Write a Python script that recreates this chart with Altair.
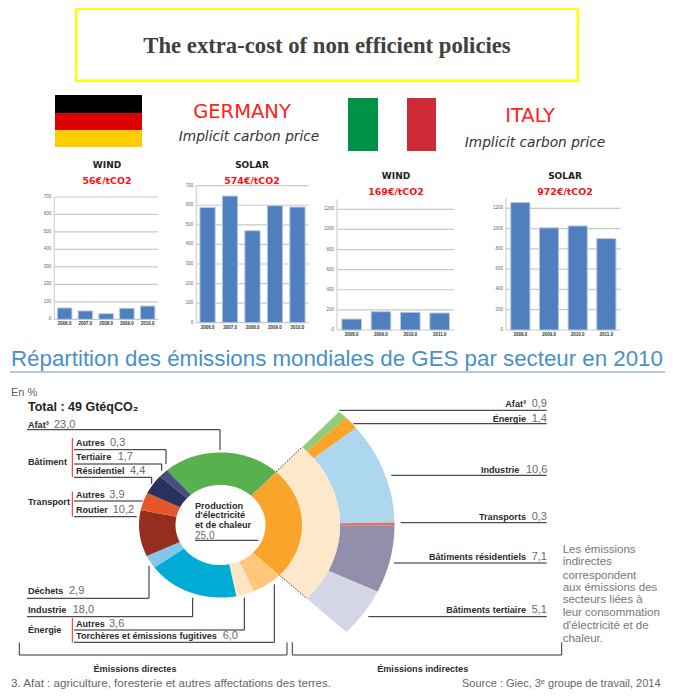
import math
import altair as alt
import pandas as pd

# ---------- values ----------
YEARS_DE = ["2006.0", "2007.0", "2008.0", "2009.0", "2010.0"]
YEARS_IT = ["2008.0", "2009.0", "2010.0", "2011.0"]
DE_WIND = [65, 48, 32, 63, 76]
DE_SOLAR = [589, 647, 470, 598, 591]
IT_WIND = [109, 182, 176, 169]
IT_SOLAR = [1257, 1007, 1026, 901]
TICKS_DE = [0, 100, 200, 300, 400, 500, 600, 700]
TICKS_IT = [0, 200, 400, 600, 800, 1000, 1200]

DIRECT_NAMES = ["Production", "Torchères", "Autres énergie", "Industrie", "Déchets", "Routier",
                "Autres transport", "Résidentiel", "Tertiaire", "Autres bâtiment", "Afat"]
DIRECT_VALUES = [25.0, 6.0, 3.6, 18.0, 2.9, 10.2, 3.9, 4.4, 1.7, 0.3, 23.0]
DIRECT_COLORS = ["#F9A52B", "#FEC77C", "#FDE5C4", "#00ABD6", "#82C6E8", "#962E20",
                 "#E5562A", "#2A3060", "#464F78", "#464F78", "#58B14E"]
INDIRECT_NAMES = ["i Afat", "i Énergie", "i Industrie", "i Transports", "i Résidentiels", "i Tertiaire"]
INDIRECT_VALUES = [0.9, 1.4, 10.6, 0.3, 7.1, 5.1]
INDIRECT_COLORS = ["#93CC78", "#F9A52B", "#ADD6EF", "#EC6F55", "#928EAB", "#D4D6E6"]

OFF = 8
DUMMY = alt.Data(values=[{"a": 1}])
layers = []
SANS = "Liberation Sans"
DJ = "DejaVu Sans"


def text(x, y, s, size=9, font=SANS, color="#333333", weight="normal", align="left", style="normal"):
    layers.append(alt.Chart(DUMMY).mark_text(
        font=font, fontSize=size, color=color, fontWeight=weight, align=align,
        baseline="alphabetic", fontStyle=style, text=s
    ).encode(x=alt.value(x - OFF), y=alt.value(y - OFF)))


def line(x1, y1, x2, y2, color="#222222", w=1.0, dash=None):
    kw = {"strokeDash": dash} if dash else {}
    layers.append(alt.Chart(DUMMY).mark_rule(color=color, strokeWidth=w, **kw).encode(
        x=alt.value(x1 - OFF), x2=alt.value(x2 - OFF), y=alt.value(y1 - OFF), y2=alt.value(y2 - OFF)))


def rect(x1, y1, x2, y2, color):
    layers.append(alt.Chart(DUMMY).mark_rect(color=color).encode(
        x=alt.value(x1 - OFF), x2=alt.value(x2 - OFF), y=alt.value(y1 - OFF), y2=alt.value(y2 - OFF)))


def panel(years, vals, ticks, x0, x1, y0, ytop, axis_top, gap, fs):
    df = pd.DataFrame({"year": years, "v": vals})
    tk = pd.DataFrame({"t": ticks, "s": [str(t) for t in ticks]})
    ys = alt.Scale(domain=[0, ticks[-1]], range=[y0 - OFF, ytop - OFF])
    xs = alt.Scale(type="band", domain=years, range=[x0 - OFF, x1 - OFF], paddingInner=gap, paddingOuter=gap / 2)
    y_t = alt.Y("t:Q", scale=ys, axis=None)
    layers.append(alt.Chart(tk).mark_rule(color="#c9c9c9", strokeWidth=1.2).encode(
        y=y_t, x=alt.value(x0 - OFF), x2=alt.value(x1 - OFF)))
    line(x0, axis_top, x0, y0, color="#d0d0d0", w=1.2)
    layers.append(alt.Chart(df).mark_bar(color="#4F7FBC", stroke="#B6CBE6", strokeWidth=1).encode(
        x=alt.X("year:N", scale=xs, axis=None),
        y=alt.Y("v:Q", scale=ys, axis=None)))
    layers.append(alt.Chart(tk).mark_text(fontSize=fs, font=SANS, color="#666666", align="right", baseline="middle").encode(
        y=y_t, x=alt.value(x0 - 3 - OFF), text="s:N"))
    layers.append(alt.Chart(df).mark_text(fontSize=fs, font=SANS, fontWeight="bold", color="#333333", baseline="middle").encode(
        x=alt.X("year:N", scale=xs, axis=None), y=alt.value(y0 + 5 - OFF), text="year:N"))


# ---------- top block ----------
rect(75, 8, 579, 82, "#FFFF00")
rect(77.5, 10, 576.5, 79.5, "#FFFFFF")
text(327, 53, "The extra-cost of non efficient policies", size=22.7, font="Liberation Serif", weight="bold", color="#404040", align="center")
rect(55, 95, 142, 113, "#000000")
rect(55, 113, 142, 130, "#DD0000")
rect(55, 130, 142, 147, "#FFCE00")
rect(348, 98, 378, 151, "#009246")
rect(407, 98, 436, 151, "#CE2B37")
text(242, 118, "GERMANY", size=19.5, font=DJ, color="#FF2020", align="center")
text(249, 141, "Implicit carbon price", size=13.7, font=DJ, color="#333333", align="center", style="italic")
text(530, 122, "ITALY", size=19.5, font=DJ, color="#FF2020", align="center")
text(535, 147, "Implicit carbon price", size=13.7, font=DJ, color="#333333", align="center", style="italic")

for cx, y1, y2, name, price in [(107, 168, 184, "WIND", "56€/tCO2"), (252, 168, 184, "SOLAR", "574€/tCO2"),
                                (396, 179, 195, "WIND", "169€/tCO2"), (565, 179, 195, "SOLAR", "972€/tCO2")]:
    text(cx, y1, name, size=9, font=DJ, weight="bold", color="#222222", align="center")
    text(cx, y2, price, size=9.4, font=DJ, weight="bold", color="#FF1010", align="center")

panel(YEARS_DE, DE_WIND, TICKS_DE, 54.3, 158, 319.3, 197, 197, 0.3, 4.5)
panel(YEARS_DE, DE_SOLAR, TICKS_DE, 196.3, 308.7, 322.7, 185.7, 185.7, 0.32, 4.5)
panel(YEARS_IT, IT_WIND, TICKS_IT, 337, 454.3, 330, 209.3, 199.3, 0.33, 4.5)
panel(YEARS_IT, IT_SOLAR, TICKS_IT, 506, 620.7, 330, 208.3, 197.7, 0.33, 4.5)

# ---------- heading ----------
text(11, 366, "Répartition des émissions mondiales de GES par secteur en 2010", size=22.3, font=SANS, color="#4A90C8")
line(10, 372, 665, 372, color="#5B9BD5", w=1.2)
text(11, 396, "En %", size=11, color="#6A5A70")
text(28, 411, "Total : 49 GtéqCO₂", size=12.5, weight="bold", color="#222222")

# ---------- wedges ----------
CX, CY, RX, RY = 220.5, 525.0, 174.0, 155.0
R_OUT, R_IN, R_PEACH = 81.5 / RX, 45.0 / RX, 119.5 / RX
START = 43.0


def wedge(name, a0, a1, r0, r1):
    n = max(2, int((a1 - a0) / 2) + 2)
    angs = [a0 + (a1 - a0) * i / (n - 1) for i in range(n)]
    pts = [(r1 * math.sin(math.radians(a)), r1 * math.cos(math.radians(a))) for a in angs]
    pts += [(r0 * math.sin(math.radians(a)), r0 * math.cos(math.radians(a))) for a in reversed(angs)]
    return [{"w": name, "o": i, "ux": p[0], "uy": p[1]} for i, p in enumerate(pts)]


rows = []
a = START
tot_i = sum(INDIRECT_VALUES)
for nm, v in zip(INDIRECT_NAMES, INDIRECT_VALUES):
    b = a + v / tot_i * 90.7
    rows += wedge(nm, a, b, R_PEACH, 1.0)
    a = b
rows += wedge("peach", START, START + 90.7, R_OUT, R_PEACH)
a = START
tot_d = sum(DIRECT_VALUES)
for nm, v in zip(DIRECT_NAMES, DIRECT_VALUES):
    b = a + v / tot_d * 360
    rows += wedge(nm, a, b, R_IN, R_OUT)
    a = b

names = INDIRECT_NAMES + ["peach"] + DIRECT_NAMES
cols = INDIRECT_COLORS + ["#FDE8CC"] + DIRECT_COLORS
layers.append(alt.Chart(alt.Data(values=rows)).mark_line(
    filled=True, interpolate="linear-closed", strokeWidth=0.3
).encode(
    x=alt.X("ux:Q", scale=alt.Scale(domain=[-1, 1], range=[CX - RX - OFF, CX + RX - OFF]), axis=None),
    y=alt.Y("uy:Q", scale=alt.Scale(domain=[-1, 1], range=[CY + RY - OFF, CY - RY - OFF]), axis=None),
    color=alt.Color("w:N", scale=alt.Scale(domain=names, range=cols), legend=None,
                    sort=names),
    order="o:Q",
))


def ux(r, a):
    return CX + RX * r * math.sin(math.radians(a))


def uy(r, a):
    return CY - RY * r * math.cos(math.radians(a))


for ang in (START, START + 90.7):
    line(ux(R_OUT, ang), uy(R_OUT, ang), ux(R_PEACH, ang), uy(R_PEACH, ang), color="#333333", w=1, dash=[1.5, 1.5])

# ---------- left labels ----------
BOLD = dict(size=9.1, weight="bold", color="#2A2A2A")
VAL = dict(size=11, color="#6A6A6A")


def lab(x, vx, y, name, val):
    text(x, y, name, **BOLD)
    text(vx, y, val, **VAL)


lab(28, 54, 428, "Afat³", "23,0")
line(27, 429.7, 220, 429.7); line(220, 429.7, 220, 450)
text(28, 465, "Bâtiment", **BOLD)
lab(76, 110, 445.7, "Autres", "0,3")
line(74, 449.7, 166, 449.7); line(166, 449.7, 166, 464)
lab(76, 117.7, 460, "Tertiaire", "1,7")
line(74, 464, 161.7, 464); line(161.7, 464, 161.7, 470.7)
lab(76, 130, 474.3, "Résidentiel", "4,4")
line(74, 477.3, 151.7, 477.3); line(151.7, 477.3, 151.7, 484)
text(28, 504.7, "Transport", **BOLD)
lab(76, 109.3, 498, "Autres", "3,9")
line(74, 501, 142.7, 501)
lab(76, 112.7, 512.7, "Routier", "10,2")
line(74, 516.7, 136.7, 516.7)
line(72.3, 438, 72.3, 477, color="#E8202A"); line(72.3, 491.7, 72.3, 516.7, color="#E8202A"); line(72.3, 618, 72.3, 642.7, color="#E8202A")
lab(28, 69, 594, "Déchets", "2,9")
line(27, 598.3, 149, 598.3); line(149, 598.3, 149, 565.7)
lab(28, 72.7, 613, "Industrie", "18,0")
line(27, 616.7, 192.7, 616.7); line(192.7, 616.7, 192.7, 597.7)
text(28, 632.7, "Énergie", **BOLD)
lab(76, 109, 627.3, "Autres", "3,6")
line(74, 630, 244.3, 630); line(244.3, 630, 244.3, 597.7)
lab(76, 222.7, 639.3, "Torchères et émissions fugitives", "6,0")
line(74, 642.3, 274.3, 642.3); line(274.3, 642.3, 274.3, 584.3)

# centre label
text(195, 508.7, "Production", **BOLD)
text(195, 518, "d'électricité", **BOLD)
text(195, 528.3, "et de chaleur", **BOLD)
text(195, 538.5, "25,0", size=10, color="#6A6A6A")
line(195, 540.3, 258.3, 540.3)

# ---------- right labels ----------
for y, ly, x0, name, val, end, vx in [
    (406.7, 410.3, 339.3, "Afat³", "0,9", 526, 531.7),
    (422, 423.7, 353.3, "Énergie", "1,4", 526, 531.7),
    (472.7, 475.3, 391.3, "Industrie", "10,6", 519.3, 526),
    (520, 522.7, 400.7, "Transports", "0,3", 526, 531.7),
    (560, 563, 394, "Bâtiments résidentiels", "7,1", 526, 531.7),
    (613, 616.7, 368.3, "Bâtiments tertiaire", "5,1", 526, 531.7),
]:
    text(end, y, name, align="right", **BOLD)
    text(vx, y, val, **VAL)
    line(x0, ly, 546.7, ly)

for y, s in zip([552.7, 565.3, 578.7, 591, 603.3, 616, 629, 641.7],
                ["Les émissions", "indirectes", "correspondent", "aux émissions des", "secteurs liées à",
                 "leur consommation", "d'électricité et de", "chaleur."]):
    text(562.7, y, s, size=11.5, color="#777777")

# ---------- brackets and footer ----------
for xa, xb in [(19.3, 287), (292.3, 561.7)]:
    line(xa, 642.3, xa, 655, color="#333333")
    line(xb, 642.3, xb, 655, color="#333333")
    line(xa, 655, xb, 655, color="#333333")
text(135, 672.3, "Émissions directes", align="center", **BOLD)
text(422.7, 672.3, "Émissions indirectes", align="center", **BOLD)
text(11, 687, "3. Afat : agriculture, foresterie et autres affectations des terres.", size=11.6, color="#666666")
text(462, 687, "Source : Giec, 3ᵉ groupe de travail, 2014", size=11, color="#666666")

chart = alt.layer(*layers).resolve_scale(x="independent", y="independent").properties(
    width=657, height=682, padding=0, autosize=alt.AutoSizeParams(type="none", contains="padding")
).configure_view(stroke=None)

chart.save("out.html", embed_options={"renderer": "svg", "actions": False})
